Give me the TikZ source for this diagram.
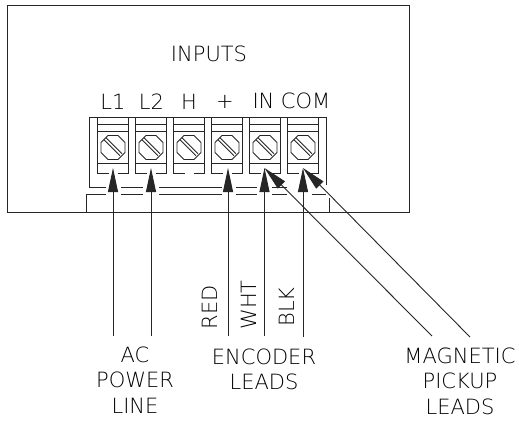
\documentclass[tikz,border=0pt]{standalone}
\usepackage{fontspec}
\setmainfont{DejaVu Sans ExtraLight}
\usetikzlibrary{arrows.meta}
\tikzset{
 x=1pt,y=-1pt,
 ln/.style={line width=0.9pt,black!85},
 lbl/.style={font=\fontsize{21}{25.5}\selectfont,text=black,inner sep=0pt,align=center},
 lead/.style={line width=0.9pt,black!85,-{Triangle[length=24pt,width=10pt]}}
}
\newcommand{\cellat}[1]{%
 \draw[ln] (#1-15.5,117)--(#1-15.5,173.3)--(#1-4.5,173.3) (#1+4.5,173.3)--(#1+15.5,173.3)--(#1+15.5,117);
 \draw[ln] (#1-15.5,124)--(#1+15.5,124) (#1-15.5,131.7)--(#1+15.5,131.7) (#1-15.5,163.3)--(#1+15.5,163.3);
 \draw[ln] (#1-5,135.5)--(#1+5,135.5)--(#1+12,142.5)--(#1+12,152.5)--(#1+5,159.5)--(#1-5,159.5)--(#1-12,152.5)--(#1-12,142.5)--cycle;
 \draw[ln] (#1-9,139.7)--(#1+7,155.7) (#1-7,137.7)--(#1+9,153.7);
}
\begin{document}
\begin{tikzpicture}
\useasboundingbox (0,0) rectangle (519,421);
\fill[white] (0,0) rectangle (519,421);
\draw[ln] (7,5) rectangle (409,212);
\foreach \c in {113,151,189,227,265,303} {\cellat{\c}}
\draw[ln] (89,187.3)--(89,117)--(326,117)--(326,185);
\draw[ln] (86,212)--(86,194)--(106,194) (89,187.3)--(106,187.3);
\draw[ln] (121,187.3)--(143,187.3) (121,194)--(143,194);
\draw[ln] (159,187.3)--(222,187.3) (159,194)--(222,194);
\draw[ln] (236,187.3)--(257,187.3) (236,194)--(257,194);
\draw[ln] (272,187.3)--(287,187.3) (272,194)--(287,194);
\draw[ln] (312,194)--(326,194);
\draw[ln] (329.5,198)--(329.5,212);
\node[lbl] (inputs) at (209,54) {INPUTS};
\node[lbl] (l1) at (113,102) {L1};
\node[lbl] (l2) at (151.5,102) {L2};
\node[lbl] (h) at (189,102) {H};
\node[lbl] (plus) at (225,102) {+};
\node[lbl] (in) at (263.5,101) {IN};
\node[lbl] (com) at (305.5,101) {COM};
\coordinate (a1) at (113,336); \coordinate (a2) at (151,336); \coordinate (a3) at (228,336);
\coordinate (a4) at (264.5,336); \coordinate (a5) at (303,337);
\coordinate (t1) at (113,168); \coordinate (t2) at (151,168); \coordinate (t3) at (228,168);
\coordinate (t4) at (264.5,168); \coordinate (t5) at (303,168);
\foreach \i in {1,...,5} {\draw[lead] (a\i)--(t\i);}
\coordinate (d1) at (432,336); \coordinate (d2) at (470,337);
\draw[lead] (d1)--(t4); \draw[lead] (d2)--(t5);
\node[lbl] (ac) at (135,380) {AC\\POWER\\LINE};
\node[lbl] (enc) at (264,369.5) {ENCODER\\LEADS};
\node[lbl] (mag) at (460,381) {MAGNETIC\\PICKUP\\LEADS};
\node[lbl,rotate=90] (red) at (210,307.5) {RED};
\node[lbl,rotate=90] (wht) at (248.5,305) {WHT};
\node[lbl,rotate=90] (blk) at (286.5,307) {BLK};
\end{tikzpicture}
\end{document}
